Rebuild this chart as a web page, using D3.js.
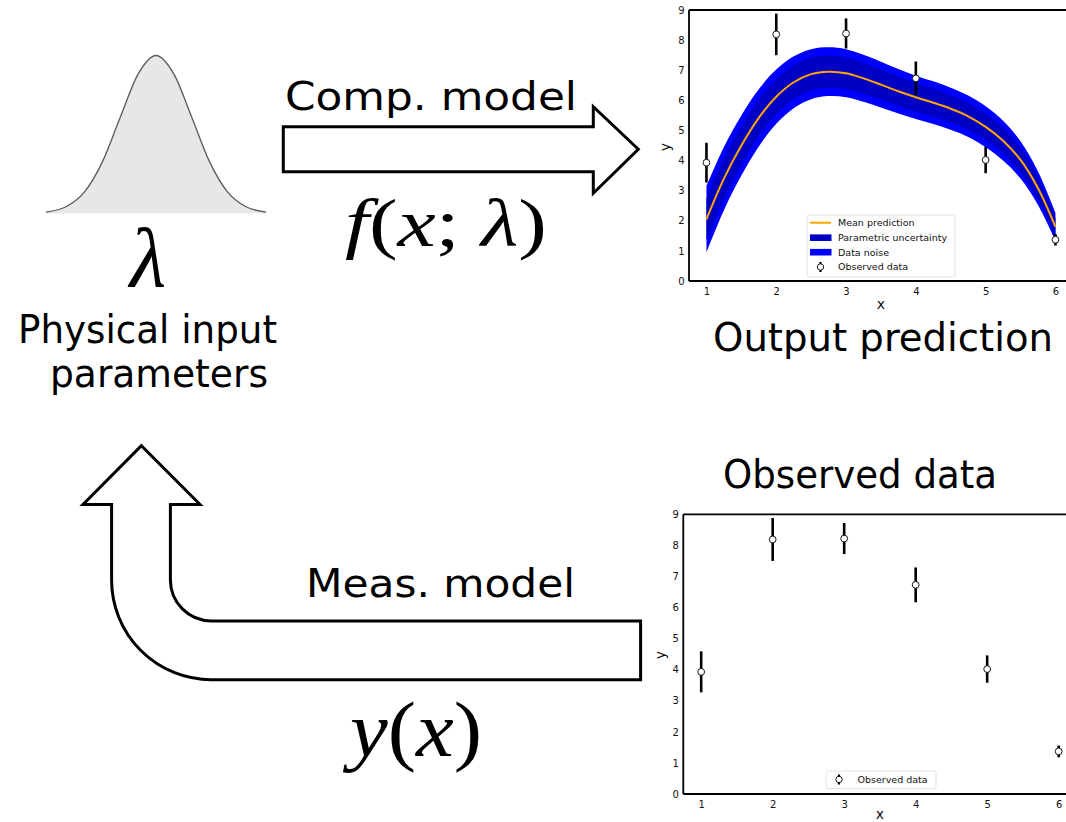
<!DOCTYPE html>
<html>
<head>
<meta charset="utf-8">
<script src="https://cdn.jsdelivr.net/npm/d3@7"></script>
<style>
  html, body { margin: 0; padding: 0; background: #fff; }
  svg { display: block; }
  .big { font-family: "DejaVu Sans Condensed", "DejaVu Sans", sans-serif; font-size: 39px; fill: #000; }
  .math { font-family: "Liberation Serif", "DejaVu Serif", serif; fill: #000; }
  .tick { font-family: "DejaVu Sans", sans-serif; font-size: 10px; fill: #111; }
  .axlab { font-family: "DejaVu Sans", sans-serif; font-size: 14px; fill: #111; }
  .leg { font-family: "DejaVu Sans", sans-serif; font-size: 9.5px; fill: #111; }
</style>
</head>
<body>
<svg id="fig" width="1066" height="822"></svg>
<script>
// ---- data ----
const obsX = [1, 2, 3, 4, 5, 6];
const obsY = [3.93, 8.19, 8.22, 6.73, 4.02, 1.37];
const obsErr = [0.66, 0.69, 0.50, 0.56, 0.44, 0.19];

const gridX = [1, 1.25, 1.5, 1.75, 2, 2.25, 2.5, 2.75, 3, 3.25, 3.5, 3.75, 4, 4.25, 4.5, 4.75, 5, 5.25, 5.5, 5.75, 6];
const meanY = [2.05, 3.40, 4.50, 5.42, 6.12, 6.60, 6.87, 6.95, 6.90, 6.73, 6.52, 6.30, 6.10, 5.92, 5.72, 5.47, 5.12, 4.66, 4.02, 3.08, 1.80];
const paramHalf = [0.70, 0.66, 0.63, 0.60, 0.58, 0.56, 0.55, 0.54, 0.53, 0.52, 0.50, 0.49, 0.48, 0.47, 0.46, 0.45, 0.44, 0.42, 0.40, 0.36, 0.30];
const noiseHalf = [1.10, 1.05, 1.00, 0.95, 0.90, 0.86, 0.83, 0.81, 0.80, 0.78, 0.76, 0.74, 0.72, 0.71, 0.70, 0.69, 0.68, 0.66, 0.62, 0.56, 0.47];

const xTicks = [1, 2, 3, 4, 5, 6];
const yTicks = [0, 1, 2, 3, 4, 5, 6, 7, 8, 9];
const legendLabels = ["Mean prediction", "Parametric uncertainty", "Data noise", "Observed data"];

// prior density of the input parameter (standardised)
const priorZ = [-3.07, -2.5, -2, -1.5, -1, -0.5, 0, 0.5, 1, 1.5, 2, 2.5, 3.07];
const priorP = [0.009, 0.044, 0.135, 0.325, 0.607, 0.882, 1, 0.882, 0.607, 0.325, 0.135, 0.044, 0.009];

const svg = d3.select("#fig");

// ---- prior distribution ----
const gx = d3.scaleLinear().domain([-3.07, 3.07]).range([46, 266]);
const gy = d3.scaleLinear().domain([0, 1]).range([213.5, 55.5]);
const priorPts = priorZ.map((z, i) => [z, priorP[i]]);
svg.append("path")
  .datum(priorPts)
  .attr("d", d3.area().x(d => gx(d[0])).y0(gy(0)).y1(d => gy(d[1])).curve(d3.curveMonotoneX))
  .attr("fill", "#e6e7e7");
svg.append("path")
  .datum(priorPts)
  .attr("d", d3.line().x(d => gx(d[0])).y(d => gy(d[1])).curve(d3.curveMonotoneX))
  .attr("fill", "none").attr("stroke", "#5a5a5a").attr("stroke-width", 1.3);

svg.append("text").attr("class", "math").attr("x", 148).attr("y", 286)
  .attr("text-anchor", "middle").attr("font-size", 84).attr("font-style", "italic").text("λ");

svg.append("text").attr("class", "big").attr("x", 18).attr("y", 343)
  .attr("textLength", 259).attr("lengthAdjust", "spacingAndGlyphs").text("Physical input");
svg.append("text").attr("class", "big").attr("x", 50).attr("y", 387)
  .attr("textLength", 218).attr("lengthAdjust", "spacingAndGlyphs").text("parameters");

// ---- arrows ----
const a1 = d3.path();
a1.moveTo(283.3, 126.7); a1.lineTo(593.3, 126.7); a1.lineTo(593.3, 106.7);
a1.lineTo(638.3, 149.2); a1.lineTo(593.3, 193.3); a1.lineTo(593.3, 171.7);
a1.lineTo(283.3, 171.7); a1.closePath();
svg.append("path").attr("d", a1.toString())
  .attr("fill", "#fff").attr("stroke", "#000").attr("stroke-width", 3).attr("stroke-linejoin", "miter");

const cx = 211.3, cy = 580, rIn = 40.9, rOut = 99.7;
const a2 = d3.path();
a2.moveTo(141.4, 445.7);
a2.lineTo(200, 504.5);
a2.lineTo(cx - rIn, 504.5);
a2.lineTo(cx - rIn, cy);
a2.arc(cx, cy, rIn, Math.PI, Math.PI / 2, true);
a2.lineTo(640.6, cy + rIn);
a2.lineTo(640.6, cy + rOut);
a2.lineTo(cx, cy + rOut);
a2.arc(cx, cy, rOut, Math.PI / 2, Math.PI, false);
a2.lineTo(cx - rOut, 504.5);
a2.lineTo(83, 504.5);
a2.closePath();
svg.append("path").attr("d", a2.toString())
  .attr("fill", "#fff").attr("stroke", "#000").attr("stroke-width", 3).attr("stroke-linejoin", "miter");

svg.append("text").attr("class", "big").attr("x", 285).attr("y", 110)
  .attr("textLength", 292).attr("lengthAdjust", "spacingAndGlyphs").text("Comp. model");
svg.append("text").attr("class", "big").attr("x", 306).attr("y", 597)
  .attr("textLength", 269).attr("lengthAdjust", "spacingAndGlyphs").text("Meas. model");

// f(x; λ)
const fx = svg.append("text").attr("class", "math").attr("x", 345).attr("y", 246)
  .attr("font-size", 68).attr("textLength", 202).attr("lengthAdjust", "spacingAndGlyphs");
fx.append("tspan").attr("font-style", "italic").text("f");
fx.append("tspan").text("(");
fx.append("tspan").attr("font-style", "italic").text("x");
fx.append("tspan").text("; ");
fx.append("tspan").attr("font-style", "italic").text("λ");
fx.append("tspan").text(")");

// y(x)
const yx = svg.append("text").attr("class", "math").attr("x", 350).attr("y", 756)
  .attr("font-size", 78).attr("textLength", 132).attr("lengthAdjust", "spacingAndGlyphs");
yx.append("tspan").attr("font-style", "italic").text("y");
yx.append("tspan").text("(");
yx.append("tspan").attr("font-style", "italic").text("x");
yx.append("tspan").text(")");

svg.append("text").attr("class", "big").attr("x", 713).attr("y", 351)
  .attr("textLength", 340).attr("lengthAdjust", "spacingAndGlyphs").text("Output prediction");
svg.append("text").attr("class", "big").attr("x", 723).attr("y", 488)
  .attr("textLength", 274).attr("lengthAdjust", "spacingAndGlyphs").text("Observed data");

// ---- panel helper ----
function panel(g, x, y, opts) {
  const [x0] = x.range();
  const [y0, y1] = y.range();
  // spines
  g.append("line").attr("x1", x0).attr("x2", 1070).attr("y1", y1).attr("y2", y1)
    .attr("stroke", "#000").attr("stroke-width", 1.8);
  g.append("line").attr("x1", x0).attr("x2", 1070).attr("y1", y0).attr("y2", y0)
    .attr("stroke", "#000").attr("stroke-width", 1.8);
  g.append("line").attr("x1", x0).attr("x2", x0).attr("y1", y1).attr("y2", y0)
    .attr("stroke", "#000").attr("stroke-width", 1.8);

  const xa = g.append("g").attr("transform", `translate(0,${y0})`)
    .call(d3.axisBottom(x).tickValues(xTicks).tickSize(0).tickPadding(7).tickFormat(d3.format("d")));
  xa.select(".domain").remove();
  xa.selectAll("text").attr("class", "tick").attr("fill", null);

  const ya = g.append("g").attr("transform", `translate(${x0},0)`)
    .call(d3.axisLeft(y).tickValues(yTicks).tickSize(0).tickPadding(4.5).tickFormat(d3.format("d")));
  ya.select(".domain").remove();
  ya.selectAll("text").attr("class", "tick").attr("fill", null);

  g.append("text").attr("class", "axlab").attr("x", opts.xlab[0]).attr("y", opts.xlab[1])
    .attr("text-anchor", "middle").text("x");
  g.append("text").attr("class", "axlab")
    .attr("transform", `translate(${opts.ylab[0]},${opts.ylab[1]}) rotate(-90)`)
    .attr("text-anchor", "middle").text("y");
}

function errorbars(g, x, y) {
  const pts = obsX.map((v, i) => ({ x: v, y: obsY[i], e: obsErr[i] }));
  g.selectAll(null).data(pts).enter().append("line")
    .attr("x1", d => x(d.x)).attr("x2", d => x(d.x))
    .attr("y1", d => y(d.y - d.e)).attr("y2", d => y(d.y + d.e))
    .attr("stroke", "#000").attr("stroke-width", 2.6);
  g.selectAll(null).data(pts).enter().append("circle")
    .attr("cx", d => x(d.x)).attr("cy", d => y(d.y)).attr("r", 3.4)
    .attr("fill", "#fff").attr("stroke", "#000").attr("stroke-width", 0.9);
}

function obsHandle(g, hx, hy) {
  g.append("line").attr("x1", hx).attr("x2", hx).attr("y1", hy - 5).attr("y2", hy + 5)
    .attr("stroke", "#000").attr("stroke-width", 2.2);
  g.append("circle").attr("cx", hx).attr("cy", hy).attr("r", 3.2)
    .attr("fill", "#fff").attr("stroke", "#000").attr("stroke-width", 0.9);
}

// ---- output prediction panel ----
const xTop = d3.scaleLinear().domain([0.75, 6.25]).range([689, 689 + 5.5 * 69.8]);
const yTop = d3.scaleLinear().domain([0, 9]).range([281, 10]);
const gTop = svg.append("g");

const smooth = d3.curveCatmullRom.alpha(0.5);
const band = gridX.map((v, i) => ({ x: v, m: meanY[i], p: paramHalf[i], n: noiseHalf[i] }));
gTop.append("path").datum(band)
  .attr("d", d3.area().x(d => xTop(d.x)).y0(d => yTop(d.m - d.n)).y1(d => yTop(d.m + d.n)).curve(smooth))
  .attr("fill", "#0000ff");
gTop.append("path").datum(band)
  .attr("d", d3.area().x(d => xTop(d.x)).y0(d => yTop(d.m - d.p)).y1(d => yTop(d.m + d.p)).curve(smooth))
  .attr("fill", "#0000c4");
gTop.append("path").datum(band)
  .attr("d", d3.line().x(d => xTop(d.x)).y(d => yTop(d.m)).curve(smooth))
  .attr("fill", "none").attr("stroke", "#ffa500").attr("stroke-width", 2);
errorbars(gTop, xTop, yTop);
panel(gTop, xTop, yTop, { xlab: [881, 309], ylab: [670, 147] });

// legend
const lg = gTop.append("g");
lg.append("rect").attr("x", 807).attr("y", 215).attr("width", 148).attr("height", 62)
  .attr("rx", 2).attr("fill", "#fff").attr("fill-opacity", 0.85).attr("stroke", "#dcdcdc").attr("stroke-width", 0.8);
const rowY = [222.7, 237.7, 252.2, 267];
lg.append("line").attr("x1", 810).attr("x2", 831).attr("y1", rowY[0]).attr("y2", rowY[0])
  .attr("stroke", "#ffa500").attr("stroke-width", 2);
lg.append("rect").attr("x", 810).attr("y", rowY[1] - 3.3).attr("width", 21.5).attr("height", 6.6).attr("fill", "#0000c4");
lg.append("rect").attr("x", 810).attr("y", rowY[2] - 3.3).attr("width", 21.5).attr("height", 6.6).attr("fill", "#0000ff");
obsHandle(lg, 820.5, rowY[3]);
lg.selectAll(null).data(legendLabels).enter().append("text")
  .attr("class", "leg").attr("x", 838).attr("y", (d, i) => rowY[i] + 3.4).text(d => d);

// ---- observed data panel ----
const xBot = d3.scaleLinear().domain([0.75, 6.25]).range([683.3, 683.3 + 5.5 * 71.5]);
const yBot = d3.scaleLinear().domain([0, 9]).range([794, 514.3]);
const gBot = svg.append("g");
errorbars(gBot, xBot, yBot);
panel(gBot, xBot, yBot, { xlab: [880, 818.5], ylab: [665, 655] });

const lg2 = gBot.append("g");
lg2.append("rect").attr("x", 826).attr("y", 771).attr("width", 110).attr("height", 17.5)
  .attr("rx", 2).attr("fill", "#fff").attr("fill-opacity", 0.85).attr("stroke", "#dcdcdc").attr("stroke-width", 0.8);
obsHandle(lg2, 839, 779.5);
lg2.append("text").attr("class", "leg").attr("x", 857.5).attr("y", 783).text(legendLabels[3]);
</script>
</body>
</html>
